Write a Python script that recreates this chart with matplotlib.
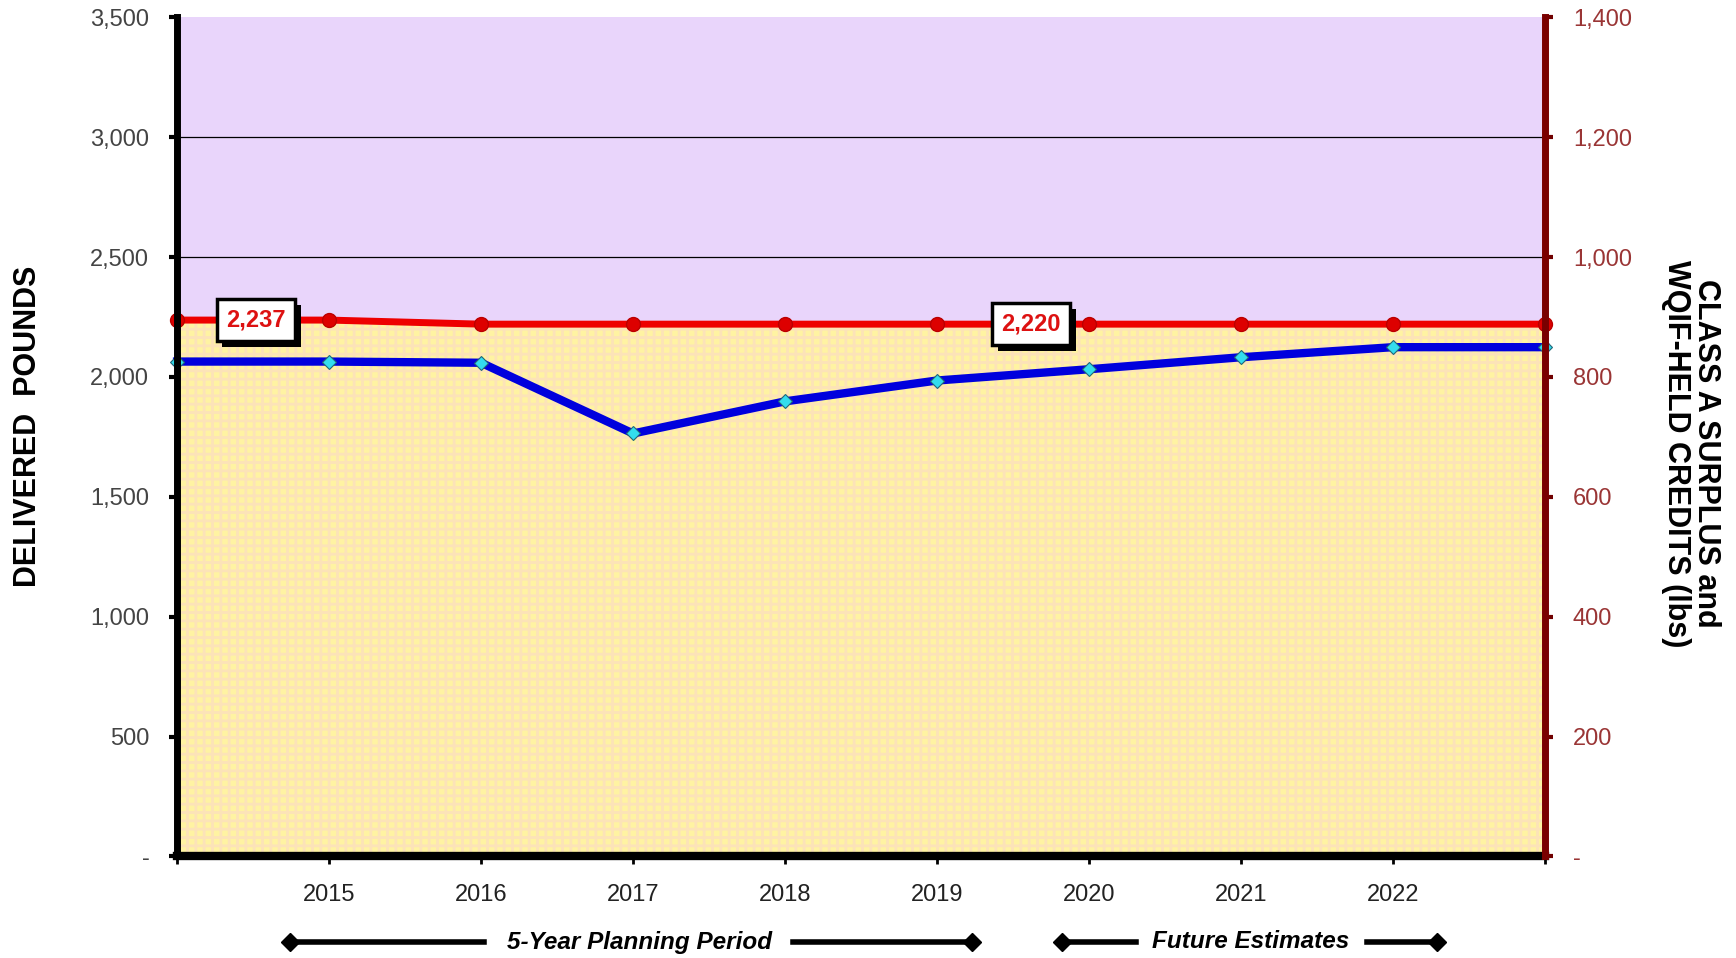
import matplotlib
matplotlib.use('Agg')
import matplotlib.pyplot as plt
import matplotlib.patheffects as pe
import matplotlib.transforms as mtransforms
from matplotlib import font_manager
import numpy as np

years = [2014, 2015, 2016, 2017, 2018, 2019, 2020, 2021, 2022, 2023]
tick_labels = ['', '2015', '2016', '2017', '2018', '2019', '2020', '2021', '2022', '']
class_a = [2237, 2237, 2220, 2220, 2220, 2220, 2220, 2220, 2220, 2220]
delivered = [2064, 2064, 2059, 1764, 1898, 1985, 2032, 2082, 2124, 2124]
left_ticks = [0, 500, 1000, 1500, 2000, 2500, 3000, 3500]
right_ticks = [0, 200, 400, 600, 800, 1000, 1200, 1400]
callouts = [(2014.52, 2237, '2,237'), (2019.62, 2220, '2,220')]

names = {f.name for f in font_manager.fontManager.ttflist}
base = 'Liberation Sans' if 'Liberation Sans' in names else 'DejaVu Sans'
narrow = 'Liberation Sans Narrow' if 'Liberation Sans Narrow' in names else base
plt.rcParams['font.family'] = [base, 'DejaVu Sans']
plt.rcParams['hatch.linewidth'] = 2.0

def fmt(v):
    return '-' if v == 0 else f'{v:,}'

fig = plt.figure(figsize=(17.36, 9.58), dpi=100)
ax = fig.add_axes([0.102, 0.106, 0.788, 0.876])
ax.set_facecolor('#E9D5FB')
ax.set_xlim(2014, 2023)
ax.set_ylim(0, 3500)

for v in left_ticks[1:-1]:
    ax.axhline(v, color='black', lw=0.9, zorder=1)

ax.fill_between(years, 0, class_a, facecolor='#FFF3A2', edgecolor='#FCE3B8',
                hatch='++', lw=0, zorder=2)

ax.plot(years, class_a, color='#EE0000', lw=5, marker='o', ms=10,
        mfc='#DD0000', mec='#BB0000', zorder=4, clip_on=False)
ax.plot(years, delivered, color='#0000DD', lw=6, marker='D', ms=7,
        mfc='#33DDEE', mec='#226677', mew=0.8, zorder=5, clip_on=False)

for x, y, s in callouts:
    t = ax.text(x, y, s, color='#DD1111', fontsize=17, fontweight='bold',
                ha='center', va='center', zorder=6,
                bbox=dict(boxstyle='square,pad=0.4', fc='white', ec='black', lw=2.5))
    t.get_bbox_patch().set_path_effects([
        pe.withSimplePatchShadow(offset=(4, -4), shadow_rgbFace='black', alpha=1)])

ax.set_xticks(years)
ax.set_xticklabels(tick_labels, fontsize=17, color='#222222', family=narrow)
ax.set_yticks(left_ticks)
ax.set_yticklabels([fmt(v) for v in left_ticks], fontsize=17, color='#444444')
ax.tick_params(axis='x', length=6, width=2, pad=14)
ax.tick_params(axis='y', length=6, width=3, pad=14, direction='out')

ax.spines['top'].set_visible(False)
ax.spines['left'].set_linewidth(5)
ax.spines['bottom'].set_linewidth(6)
ax.spines['right'].set_visible(False)
ax.spines['left'].set_zorder(7)
ax.spines['bottom'].set_zorder(7)

ax2 = ax.twinx()
ax2.set_ylim(0, 1400)
ax2.set_yticks(right_ticks)
ax2.set_yticklabels([fmt(v) for v in right_ticks], fontsize=17, color='#9A3535')
ax2.tick_params(axis='y', length=6, width=3, pad=14, color='#700000')
for side in ['top', 'left', 'bottom']:
    ax2.spines[side].set_visible(False)
ax2.spines['right'].set_linewidth(5)
ax2.spines['right'].set_color('#7A0000')

ax.set_ylabel('DELIVERED  POUNDS', fontsize=22, fontweight='bold')
ax.yaxis.set_label_coords(-0.098, 0.512)
ax2.set_ylabel('CLASS A SURPLUS and\nWQIF-HELD CREDITS (lbs)', fontsize=22,
               fontweight='bold', rotation=-90, linespacing=1.0, va='center')
ax2.yaxis.set_label_coords(1.107, 0.48)

# period markers under the axis
tr = mtransforms.blended_transform_factory(ax.transData, fig.transFigure)
yb = 1 - 942 / 958
periods = [(2014.74, 2016.02, 2016.16, 2017.92, 2018.05, 2019.23, '5-Year Planning Period'),
           (2019.82, 2020.31, 2020.42, 2021.71, 2021.83, 2022.29, 'Future Estimates')]
for x0, x1, tx0, tx1, x2, x3, label in periods:
    ax.plot([x0, x1], [yb, yb], color='black', lw=4, transform=tr, clip_on=False)
    ax.plot([x2, x3], [yb, yb], color='black', lw=4, transform=tr, clip_on=False)
    ax.plot([x0, x3], [yb, yb], ls='none', marker='D', ms=9, color='black',
            transform=tr, clip_on=False)
    ax.text((tx0 + tx1) / 2, yb, label, transform=tr, ha='center', va='center',
            fontsize=17.5, fontweight='bold', fontstyle='italic', family=narrow)

fig.savefig('out.png', dpi=100)
